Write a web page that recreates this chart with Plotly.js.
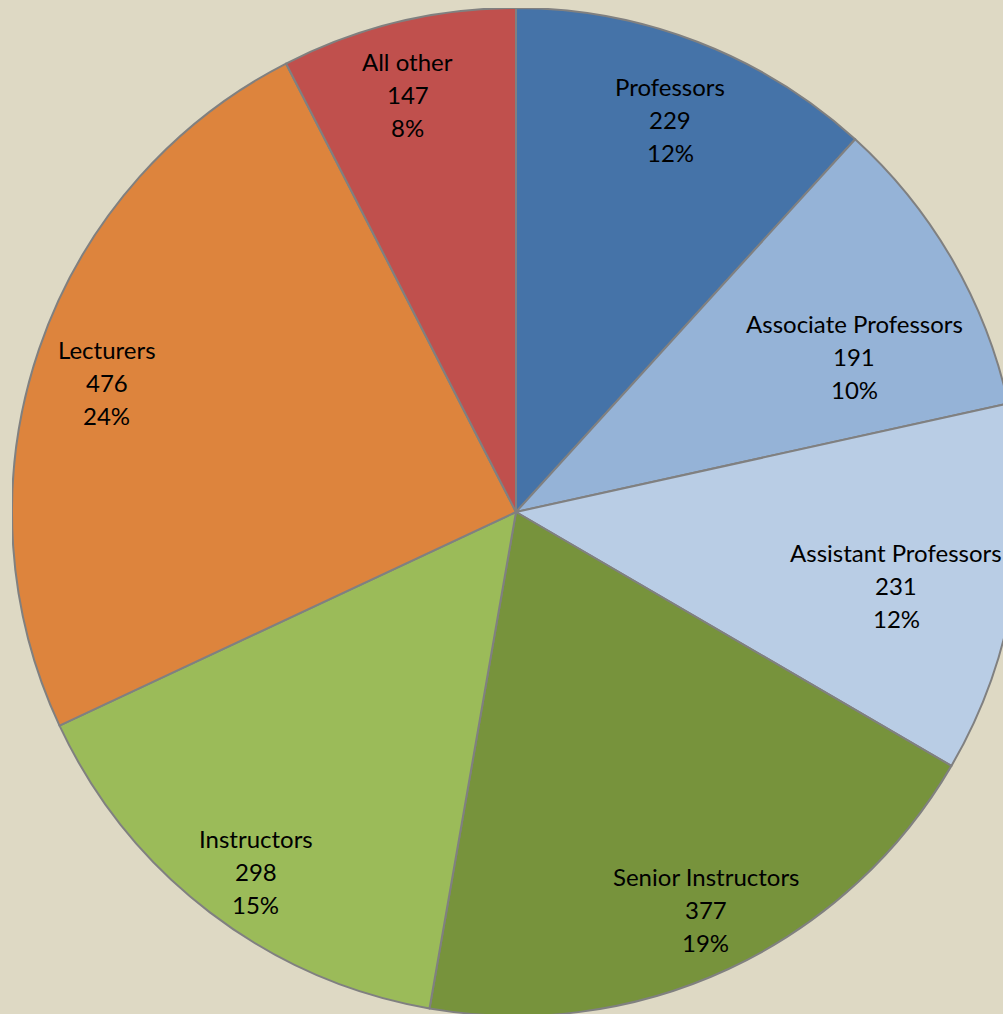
<!DOCTYPE html>
<html>
<head>
<meta charset="utf-8">
<script src="https://cdn.plot.ly/plotly-3.0.1.min.js"></script>
<style>
  html, body { margin: 0; padding: 0; width: 1003px; height: 1014px; overflow: hidden; background: #DED9C4; }
  #chart { position: absolute; left: 12px; top: 8px; width: 1008px; height: 1008px; }
</style>
</head>
<body>
<div id="chart"></div>
<script>
// ---- data ----
var categories = ["Professors", "Associate Professors", "Assistant Professors",
                  "Senior Instructors", "Instructors", "Lecturers", "All other"];
var counts = [229, 191, 231, 377, 298, 476, 147];
var sliceColors = ["#4573A8", "#95B3D7", "#B9CDE5", "#77933C", "#9BBB59", "#DD843D", "#C0504D"];

// label placement (style): radial fraction of radius and small angular nudge (deg)
var labelRadius = [0.836, 0.738, 0.768, 0.873, 0.880, 0.852, 0.855];
var labelNudge  = [0.35, 5.4, 2.0, -0.6, -1.5, -1.3, -1.0];

var total = counts.reduce(function (a, b) { return a + b; }, 0);

var trace = {
  type: "pie",
  labels: categories,
  values: counts,
  sort: false,
  direction: "clockwise",
  rotation: 0,
  textinfo: "none",
  hoverinfo: "label+value+percent",
  marker: { colors: sliceColors, line: { color: "#808080", width: 2 } },
  domain: { x: [0, 1], y: [0, 1] },
  showlegend: false
};

var annotations = [];
var cum = 0;
var lineGap = 33;
for (var i = 0; i < counts.length; i++) {
  var mid = (cum + counts[i] / 2) / total * 360 + labelNudge[i];
  cum += counts[i];
  var a = mid * Math.PI / 180;
  var px = 0.5 + 0.5 * labelRadius[i] * Math.sin(a);
  var py = 0.5 + 0.5 * labelRadius[i] * Math.cos(a);
  var lines = [categories[i], String(counts[i]), Math.round(counts[i] / total * 100) + "%"];
  for (var k = 0; k < 3; k++) {
    annotations.push({
      xref: "paper", yref: "paper", x: px, y: py,
      text: lines[k], showarrow: false,
      xanchor: "center", yanchor: "middle",
      yshift: (1 - k) * lineGap,
      font: { family: "Lato, 'Noto Sans', sans-serif", size: 24, color: "#000000" }
    });
  }
}

var layout = {
  width: 1008, height: 1008,
  margin: { l: 0, r: 0, t: 0, b: 0, pad: 0 },
  paper_bgcolor: "#DED9C4",
  plot_bgcolor: "#DED9C4",
  showlegend: false,
  annotations: annotations
};

Plotly.newPlot("chart", [trace], layout, { displayModeBar: false, staticPlot: true });
</script>
</body>
</html>
